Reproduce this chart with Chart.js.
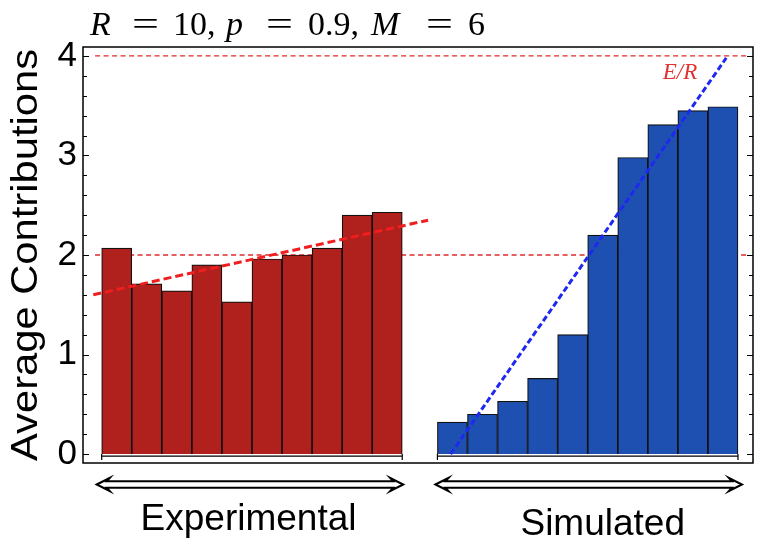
<!DOCTYPE html>
<html>
<head>
<meta charset="utf-8">
<script src="https://cdn.jsdelivr.net/npm/chart.js@4/dist/chart.umd.min.js"></script>
<style>
  html,body{margin:0;padding:0;background:#fff;}
  #wrap{width:764px;height:545px;position:relative;}
</style>
</head>
<body>
<div id="wrap"><canvas id="c" width="764" height="545"></canvas></div>
<script>
// ---------------- data ----------------
const rounds = [1, 2, 3, 4, 5, 6, 7, 8, 9, 10];
const experimental = [2.07, 1.71, 1.64, 1.90, 1.53, 1.96, 2.00, 2.07, 2.40, 2.43];
const simulated    = [0.32, 0.40, 0.53, 0.76, 1.20, 2.20, 2.98, 3.31, 3.45, 3.49];
const expTrendX = [0.22, 11.36];
const expTrendY = [1.60, 2.35];
const simTrendX = [12.11, 21.28];
const simTrendY = [0.00, 3.98];
const refLevels = [2, 4];
const yTickValues = [0, 1, 2, 3, 4];
const groupLabels = ['Experimental', 'Simulated'];
const refLabel = 'E/R';
const titleParts = ['R', '=', '10,', 'p', '=', '0.9,', 'M', '=', '6'];
const titleItalic = [true, false, false, true, false, false, true, false, false];

// ---------------- layout helpers ----------------
const simOffset = 11.17;           // gap between the two groups, in bar units
const refSpan = [0.28, 22.0];
const xMin = -0.122, xMax = 22.17;
const yMin = -0.09, yMax = 4.09;
// pixel left edges of the title pieces
const titleX = [90, 132, 173, 226, 266, 308, 371, 426, 468];

const expPts = rounds.map((r, i) => ({x: r, y: experimental[i]}));
const simPts = rounds.map((r, i) => ({x: r + simOffset, y: simulated[i]}));

const datasets = [];
refLevels.forEach(lv => datasets.push({
  type: 'line', data: [{x: refSpan[0], y: lv}, {x: refSpan[1], y: lv}],
  borderColor: 'rgb(225,40,40)', borderWidth: 1.3, borderDash: [5, 3.5],
  pointRadius: 0, order: 3, fill: false
}));
datasets.push({
  type: 'bar', data: expPts, backgroundColor: 'rgb(176,32,28)',
  borderColor: '#111', borderWidth: 1.2, barPercentage: 1, categoryPercentage: 1,
  grouped: false, order: 2
});
datasets.push({
  type: 'bar', data: simPts, backgroundColor: 'rgb(30,80,178)',
  borderColor: '#111', borderWidth: 1.2, barPercentage: 1, categoryPercentage: 1,
  grouped: false, order: 2
});
datasets.push({
  type: 'line', data: expTrendX.map((x, i) => ({x, y: expTrendY[i]})),
  borderColor: 'rgb(240,30,30)', borderWidth: 3, borderDash: [8, 4],
  pointRadius: 0, order: 1, fill: false
});
datasets.push({
  type: 'line', data: simTrendX.map((x, i) => ({x, y: simTrendY[i]})),
  borderColor: 'rgb(30,40,240)', borderWidth: 3, borderDash: [6, 3],
  pointRadius: 0, order: 1, fill: false
});

function drawArrow(ctx, x1, x2, y) {
  const hl = 13, hh = 6.5, sh = 3.3;
  ctx.beginPath();
  ctx.moveTo(x1, y);
  ctx.lineTo(x1 + hl, y - hh);
  ctx.lineTo(x1 + hl - 3, y - sh);
  ctx.lineTo(x2 - hl + 3, y - sh);
  ctx.lineTo(x2 - hl, y - hh);
  ctx.lineTo(x2, y);
  ctx.lineTo(x2 - hl, y + hh);
  ctx.lineTo(x2 - hl + 3, y + sh);
  ctx.lineTo(x1 + hl - 3, y + sh);
  ctx.lineTo(x1 + hl, y + hh);
  ctx.closePath();
  ctx.fillStyle = '#fff';
  ctx.fill();
  ctx.lineWidth = 2;
  ctx.strokeStyle = '#000';
  ctx.lineJoin = 'miter';
  ctx.stroke();
}

const decor = {
  id: 'decor',
  afterDraw(chart) {
    const ctx = chart.ctx;
    const a = chart.chartArea;
    const xs = chart.scales.x, ys = chart.scales.y;
    ctx.save();
    // frame
    ctx.strokeStyle = '#000';
    ctx.lineWidth = 1.5;
    ctx.strokeRect(a.left, a.top, a.right - a.left, a.bottom - a.top);
    // y ticks (inward, both sides)
    ctx.lineWidth = 1.2;
    for (let k = 0; k <= 20; k++) {
      const v = k * 0.2;
      const py = Math.round(ys.getPixelForValue(v)) + 0.5;
      const len = (k % 5 === 0) ? 6 : 4;
      ctx.beginPath();
      ctx.moveTo(a.left, py); ctx.lineTo(a.left + len, py);
      ctx.moveTo(a.right, py); ctx.lineTo(a.right - len, py);
      ctx.stroke();
    }
    // base brackets under each group
    const y0 = ys.getPixelForValue(0);
    const groups = [
      [xs.getPixelForValue(rounds[0] - 0.5), xs.getPixelForValue(rounds[rounds.length - 1] + 0.5)],
      [xs.getPixelForValue(rounds[0] - 0.5 + simOffset), xs.getPixelForValue(rounds[rounds.length - 1] + 0.5 + simOffset)]
    ];
    ctx.lineWidth = 1.2;
    groups.forEach(([l, r]) => {
      ctx.beginPath();
      ctx.moveTo(l, y0 + 2); ctx.lineTo(r, y0 + 2);
      ctx.moveTo(l, y0); ctx.lineTo(l, y0 + 6);
      ctx.moveTo(r, y0); ctx.lineTo(r, y0 + 6);
      ctx.stroke();
    });
    // arrows
    drawArrow(ctx, groups[0][0] - 5, groups[0][1] + 1, 484.5);
    drawArrow(ctx, groups[1][0] - 2, groups[1][1] + 4, 484.5);
    // group labels
    ctx.fillStyle = '#000';
    ctx.font = '37px "Liberation Sans", Arial, sans-serif';
    ctx.textAlign = 'center';
    ctx.textBaseline = 'alphabetic';
    ctx.fillText(groupLabels[0], xs.getPixelForValue(5.385), 530);
    ctx.fillText(groupLabels[1], xs.getPixelForValue(17.17), 535);
    // E/R label
    ctx.fillStyle = 'rgb(225,50,50)';
    ctx.font = 'italic 23px "Liberation Serif", "DejaVu Serif", serif';
    ctx.fillText(refLabel, xs.getPixelForValue(19.74), ys.getPixelForValue(3.77));
    // y axis title (stretched along its length)
    ctx.save();
    ctx.fillStyle = '#000';
    ctx.font = '36px "Liberation Sans", Arial, sans-serif';
    const yl = 'Average Contributions';
    const w = ctx.measureText(yl).width;
    ctx.translate(37, 255);
    ctx.rotate(-Math.PI / 2);
    ctx.scale(412 / w, 1);
    ctx.textAlign = 'center';
    ctx.fillText(yl, 0, 0);
    ctx.restore();
    // title with math italics
    ctx.fillStyle = '#000';
    ctx.textAlign = 'left';
    titleParts.forEach((t, i) => {
      ctx.font = (titleItalic[i] ? 'italic ' : '') + '34px "Liberation Serif", "DejaVu Serif", serif';
      ctx.save();
      ctx.translate(titleX[i], 35);
      if (t === '=') ctx.scale(27 / ctx.measureText(t).width, 1);
      ctx.fillText(t, 0, 0);
      ctx.restore();
    });
    ctx.restore();
  }
};

new Chart(document.getElementById('c'), {
  type: 'bar',
  data: {datasets},
  options: {
    responsive: false,
    animation: false,
    devicePixelRatio: 1,
    layout: {padding: {top: 47, right: 11, bottom: 82, left: 0}},
    plugins: {legend: {display: false}, tooltip: {enabled: false}, title: {display: false}},
    scales: {
      x: {type: 'linear', min: xMin, max: xMax, display: false, offset: false},
      y: {
        type: 'linear', min: yMin, max: yMax,
        afterFit(s) { s.width = 83; },
        afterBuildTicks(s) { s.ticks = yTickValues.map(v => ({value: v})); },
        grid: {display: false, drawTicks: false},
        border: {display: false},
        ticks: {
          color: '#000', padding: 6,
          font: {family: '"Liberation Sans", Arial, sans-serif', size: 35},
          callback: v => String(v)
        }
      }
    }
  },
  plugins: [decor]
});
</script>
</body>
</html>
